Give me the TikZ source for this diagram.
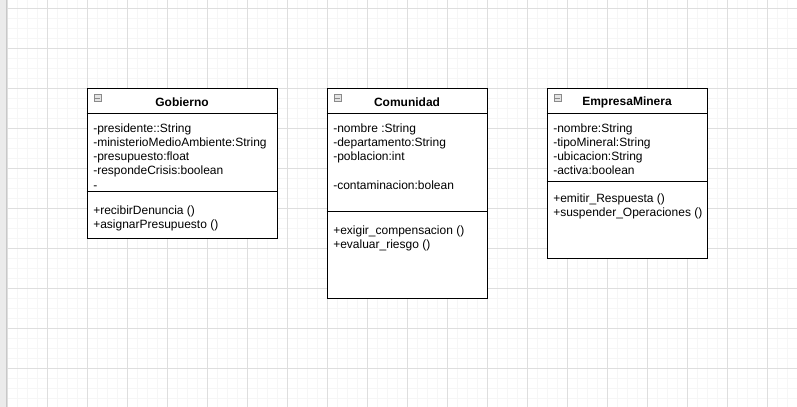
\documentclass[tikz,border=0pt]{standalone}
\usepackage{fontspec}
\setmainfont{Liberation Sans}
\usetikzlibrary{calc}
\definecolor{gridminor}{HTML}{F6F6F6}
\definecolor{gridmajor}{HTML}{DEDEDE}
\definecolor{sidebar}{HTML}{EBEBEB}
\definecolor{iconfill}{HTML}{E4E4E4}
\definecolor{iconline}{HTML}{8A8A8A}
\tikzset{
  umlbox/.style={draw=black, line width=0.75pt, fill=white, inner sep=0pt},
  member/.style={anchor=base west, inner sep=0pt, font=\fontsize{9}{10}\selectfont},
  classname/.style={inner sep=0pt, font=\fontsize{9}{10}\selectfont\bfseries},
  divider/.style={draw=black, line width=0.75pt},
  foldicon/.style={draw=iconline, fill=iconfill, line width=0.5pt, minimum width=5.2pt, minimum height=5.2pt, inner sep=0pt},
}
\begin{document}
\begin{tikzpicture}[x=0.75pt, y=-0.75pt]
\useasboundingbox (0,0) rectangle (797,407);
\fill[white] (0,0) rectangle (797,407);
% background grid
\foreach \gx in {7,17,...,797} \draw[gridminor, line width=0.6pt] (\gx,0) -- (\gx,407);
\foreach \gy in {8,18,...,407} \draw[gridminor, line width=0.6pt] (7,\gy) -- (797,\gy);
\foreach \gx in {7,47,...,797} \draw[gridmajor, line width=0.6pt] (\gx,0) -- (\gx,407);
\foreach \gy in {8,48,...,407} \draw[gridmajor, line width=0.6pt] (7,\gy) -- (797,\gy);
\fill[sidebar] (0,0) rectangle (6.5,407);
\draw[gridmajor!90!black, line width=0.5pt] (6.5,0) -- (6.5,407);

% ---------- Gobierno ----------
\node[umlbox, minimum width=142.5pt, minimum height=112.5pt] (gob) at (182,163) {};
\draw[divider] ([yshift=-19.5pt]gob.north west) -- ([yshift=-19.5pt]gob.north east);
\draw[divider] ([yshift=-78pt]gob.north west) -- ([yshift=-78pt]gob.north east);
\node[foldicon] (gobicon) at (97.5,98) {};
\draw[iconline, line width=0.6pt] ([xshift=1.2pt]gobicon.west) -- ([xshift=-1.2pt]gobicon.east);
\node[classname] (gobname) at (182,102) {Gobierno};
\node[member] (gob1) at (93,132) {-presidente::String};
\node[member] (gob2) at (93,146.3) {-ministerioMedioAmbiente:String};
\node[member] (gob3) at (93,160.6) {-presupuesto:float};
\node[member] (gob4) at (93,174.9) {-respondeCrisis:boolean};
\node[member] (gob5) at (93,189.2) {-};
\node[member] (gob6) at (93,214) {+recibirDenuncia ()};
\node[member] (gob7) at (93,228.3) {+asignarPresupuesto ()};

% ---------- Comunidad ----------
\node[umlbox, minimum width=120pt, minimum height=157.5pt] (com) at (407,193) {};
\draw[divider] ([yshift=-19.5pt]com.north west) -- ([yshift=-19.5pt]com.north east);
\draw[divider] ([yshift=-93pt]com.north west) -- ([yshift=-93pt]com.north east);
\node[foldicon] (comicon) at (337.5,98) {};
\draw[iconline, line width=0.6pt] ([xshift=1.2pt]comicon.west) -- ([xshift=-1.2pt]comicon.east);
\node[classname] (comname) at (407,102) {Comunidad};
\node[member] (com1) at (333,132) {-nombre :String};
\node[member] (com2) at (333,146.3) {-departamento:String};
\node[member] (com3) at (333,160.6) {-poblacion:int};
\node[member] (com4) at (333,189.5) {-contaminacion:bolean};
\node[member] (com5) at (333,234) {+exigir\_compensacion ()};
\node[member] (com6) at (333,248.3) {+evaluar\_riesgo ()};

% ---------- EmpresaMinera ----------
\node[umlbox, minimum width=120pt, minimum height=127.5pt] (emp) at (627,173) {};
\draw[divider] ([yshift=-19.5pt]emp.north west) -- ([yshift=-19.5pt]emp.north east);
\draw[divider] ([yshift=-70.5pt]emp.north west) -- ([yshift=-70.5pt]emp.north east);
\node[foldicon] (empicon) at (557.5,98) {};
\draw[iconline, line width=0.6pt] ([xshift=1.2pt]empicon.west) -- ([xshift=-1.2pt]empicon.east);
\node[classname] (empname) at (627,102) {EmpresaMinera};
\node[member] (emp1) at (553,132) {-nombre:String};
\node[member] (emp2) at (553,146.3) {-tipoMineral:String};
\node[member] (emp3) at (553,160.6) {-ubicacion:String};
\node[member] (emp4) at (553,174.9) {-activa:boolean};
\node[member] (emp5) at (553,202) {+emitir\_Respuesta ()};
\node[member] (emp6) at (553,216.3) {+suspender\_Operaciones ()};
\end{tikzpicture}
\end{document}
